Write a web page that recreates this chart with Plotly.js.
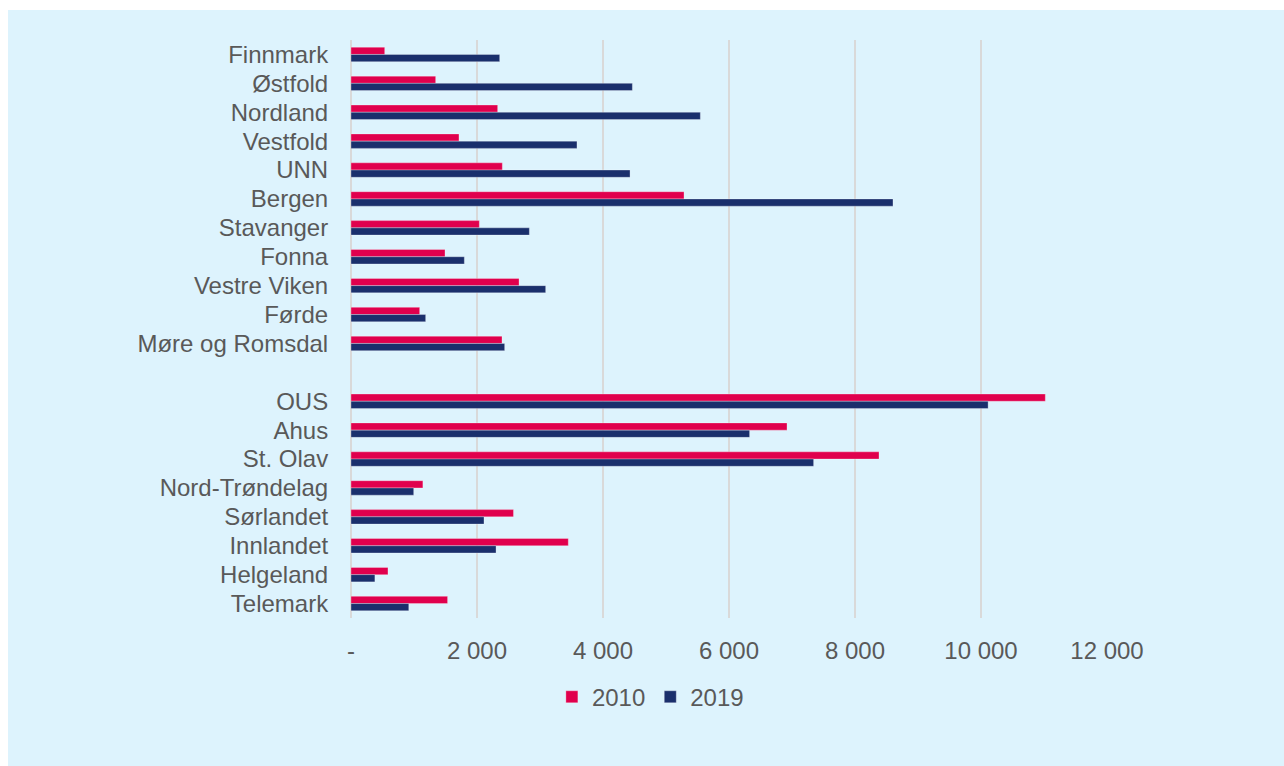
<!DOCTYPE html>
<html>
<head>
<meta charset="utf-8">
<script src="https://cdn.plot.ly/plotly-3.0.1.min.js"></script>
<style>
  html, body { margin: 0; padding: 0; background: #ffffff; width: 1284px; height: 766px; overflow: hidden; }
  #chart { position: absolute; left: 8px; top: 10px; width: 1276px; height: 756px; }
</style>
</head>
<body>
<div id="chart"></div>
<script>
const categories = ["Finnmark", "Østfold", "Nordland", "Vestfold", "UNN", "Bergen", "Stavanger", "Fonna",
  "Vestre Viken", "Førde", "Møre og Romsdal", " ", "OUS", "Ahus", "St. Olav", "Nord-Trøndelag",
  "Sørlandet", "Innlandet", "Helgeland", "Telemark"];
const values2010 = [535, 1344, 2328, 1714, 2402, 5286, 2037, 1492, 2667, 1090, 2397, null,
  11021, 6921, 8381, 1141, 2579, 3449, 587, 1533];
const values2019 = [2360, 4466, 5545, 3587, 4429, 8603, 2831, 1799, 3090, 1185, 2439, null,
  10113, 6327, 7343, 995, 2111, 2302, 379, 917];
const tickValues = [0, 2000, 4000, 6000, 8000, 10000, 12000];
const tickLabels = ["-", "2 000", "4 000", "6 000", "8 000", "10 000", "12 000"];
const seriesNames = ["2010", "2019"];

const font = { family: "Liberation Sans, Arial, sans-serif", size: 24, color: "#595959" };

const traces = [
  { type: "bar", orientation: "h", name: seriesNames[0], y: categories, x: values2010,
    marker: { color: "#E0004D", line: { color: "rgba(255,255,255,0.5)", width: 0.6 } }, hoverinfo: "x+y+name" },
  { type: "bar", orientation: "h", name: seriesNames[1], y: categories, x: values2019,
    marker: { color: "#1A2F6C", line: { color: "rgba(255,255,255,0.5)", width: 0.6 } }, hoverinfo: "x+y+name" }
];

const layout = {
  width: 1276, height: 756,
  paper_bgcolor: "#DDF3FD",
  plot_bgcolor: "#DDF3FD",
  font: font,
  barmode: "group",
  bargap: 0.5,
  bargroupgap: 0,
  margin: { l: 343, r: 177, t: 29.5, b: 147.5, pad: 0 },
  showlegend: true,
  legend: {
    orientation: "h", x: 0.396, xanchor: "center", y: -0.137, yanchor: "middle",
    font: font, bgcolor: "rgba(0,0,0,0)", traceorder: "normal", itemwidth: 30
  },
  xaxis: {
    range: [0, 12000],
    tickmode: "array", tickvals: tickValues, ticktext: tickLabels,
    showgrid: true, gridcolor: "#D9D9D9", gridwidth: 1.5,
    zeroline: true, zerolinecolor: "#D9D9D9", zerolinewidth: 1.5,
    showline: false,
    ticks: "outside", ticklen: 11, tickcolor: "rgba(0,0,0,0)",
    tickfont: font, fixedrange: true
  },
  yaxis: {
    type: "category",
    categoryorder: "array", categoryarray: categories,
    autorange: "reversed",
    tickmode: "array", tickvals: categories, ticktext: categories,
    showgrid: false, zeroline: false, showline: false,
    ticks: "outside", ticklen: 17, tickcolor: "rgba(0,0,0,0)",
    tickfont: font, fixedrange: true
  }
};

Plotly.newPlot("chart", traces, layout, { displayModeBar: false, staticPlot: true });
</script>
</body>
</html>
